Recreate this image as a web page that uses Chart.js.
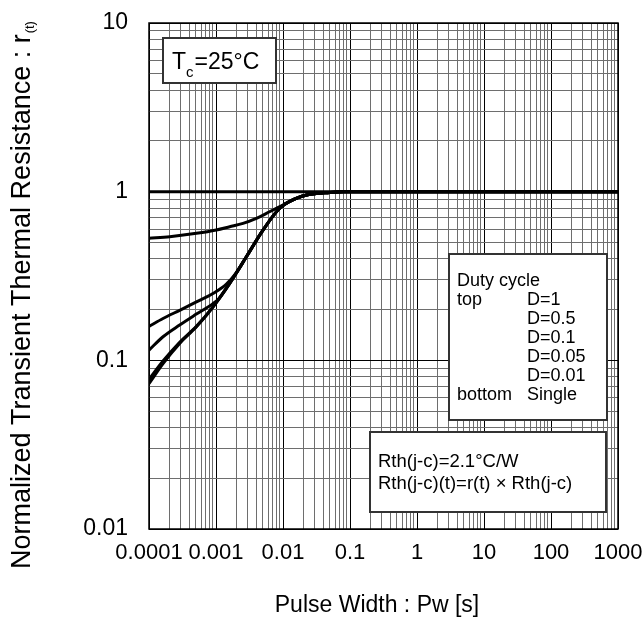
<!DOCTYPE html>
<html>
<head>
<meta charset="utf-8">
<script src="https://cdn.jsdelivr.net/npm/chart.js@4.4.0/dist/chart.umd.min.js"></script>
<style>
  html, body { margin: 0; padding: 0; background: #fff; }
</style>
</head>
<body>
<canvas id="myChart" width="643" height="626"></canvas>
<script>
// Pulse width [s] and normalized transient thermal resistance r(t) for each duty cycle
const pwD1 = [0.0001, 1000];
const rD1 = [1, 1];

const pwD05 = [0.0001, 0.000204, 0.00051, 0.00101, 0.0016, 0.00253, 0.004, 0.0063, 0.01, 0.0158, 0.0225, 0.05, 0.08, 1000];
const rD05 = [0.529, 0.541, 0.566, 0.593, 0.62, 0.649, 0.695, 0.76, 0.834, 0.914, 0.956, 0.99, 1, 1];

const pwD01 = [0.0001, 0.000162, 0.000287, 0.00051, 0.0009, 0.00143, 0.002, 0.00284, 0.00503, 0.00893, 0.0159, 0.0225, 0.05, 0.08, 1000];
const rD01 = [0.159, 0.177, 0.198, 0.222, 0.249, 0.283, 0.33, 0.411, 0.592, 0.797, 0.914, 0.956, 0.99, 1, 1];

const pwD005 = [0.0001, 0.000162, 0.000287, 0.00051, 0.0009, 0.0011, 0.0016, 0.00284, 0.00503, 0.00893, 0.0159, 0.0225, 0.05, 0.08, 1000];
const rD005 = [0.115, 0.138, 0.162, 0.188, 0.217, 0.232, 0.286, 0.411, 0.592, 0.797, 0.914, 0.956, 0.99, 1, 1];

const pwD001 = [0.0001, 0.000162, 0.000287, 0.00051, 0.0009, 0.0016, 0.00284, 0.00503, 0.00893, 0.0159, 0.0225, 0.05, 0.08, 1000];
const rD001 = [0.077, 0.099, 0.128, 0.159, 0.207, 0.286, 0.411, 0.592, 0.797, 0.914, 0.956, 0.99, 1, 1];

const pwSingle = [0.0001, 0.000162, 0.000287, 0.00051, 0.0009, 0.0016, 0.00284, 0.00503, 0.00893, 0.0159, 0.0225, 0.05, 0.08, 1000];
const rSingle = [0.0728, 0.0957, 0.126, 0.158, 0.207, 0.286, 0.411, 0.592, 0.797, 0.914, 0.956, 0.99, 1, 1];

// Axis decades and their labels
const xDecades = [0.0001, 0.001, 0.01, 0.1, 1, 10, 100, 1000];
const xTickLabels = ['0.0001', '0.001', '0.01', '0.1', '1', '10', '100', '1000'];
const yDecades = [0.01, 0.1, 1, 10];
const yTickLabels = ['0.01', '0.1', '1', '10'];

const legendLeft = ['Duty cycle', 'top', '', '', '', '', 'bottom'];
const legendRight = ['', 'D=1', 'D=0.5', 'D=0.1', 'D=0.05', 'D=0.01', 'Single'];
const noteLines = ['Rth(j-c)=2.1\u00B0C/W', 'Rth(j-c)(t)=r(t) \u00D7 Rth(j-c)'];

const FONT = "'Liberation Sans', Arial, sans-serif";

function toPoints(xs, ys) {
  return xs.map((x, i) => ({ x: x, y: ys[i] }));
}

// 1..9 x 10^n grid ticks, decades flagged as major
function logGridTicks(decades) {
  const ticks = [];
  decades.forEach((d, i) => {
    ticks.push({ value: d, major: true });
    if (i === decades.length - 1) return;
    for (let m = 2; m <= 9; m++) {
      ticks.push({ value: d * m, major: false });
    }
  });
  return ticks;
}

function curve(label, xs, ys) {
  return {
    label: label,
    data: toPoints(xs, ys),
    borderColor: '#000',
    borderWidth: 3,
    pointRadius: 0,
    fill: false,
    cubicInterpolationMode: 'monotone'
  };
}

const gridColor = (ctx) => (ctx.tick && ctx.tick.major ? '#000' : '#6e6e6e');

// Text boxes, frame and axis titles
const overlay = {
  id: 'overlay',
  afterDatasetsDraw(chart) {
    const ctx = chart.ctx;
    const ca = chart.chartArea;
    ctx.save();

    // plot frame
    ctx.strokeStyle = '#000';
    ctx.lineWidth = 1.5;
    ctx.strokeRect(ca.left, ca.top, ca.right - ca.left, ca.bottom - ca.top);

    function box(x, y, w, h) {
      ctx.fillStyle = '#fff';
      ctx.fillRect(x, y, w, h);
      ctx.strokeStyle = '#333';
      ctx.lineWidth = 2;
      ctx.strokeRect(x, y, w, h);
    }

    ctx.textAlign = 'left';
    ctx.textBaseline = 'alphabetic';

    // case temperature box
    box(ca.left + 14, ca.top + 15, 113, 45);
    ctx.fillStyle = '#000';
    let tx = ca.left + 23;
    const ty = ca.top + 45.5;
    ctx.font = '23px ' + FONT;
    ctx.fillText('T', tx, ty);
    tx += ctx.measureText('T').width;
    ctx.font = '15px ' + FONT;
    ctx.fillText('c', tx, ty + 8);
    tx += ctx.measureText('c').width + 1;
    ctx.font = '23px ' + FONT;
    ctx.fillText('=25\u00B0C', tx, ty);

    // duty cycle legend box
    box(ca.left + 300, ca.top + 231, 158, 166);
    ctx.fillStyle = '#000';
    ctx.font = '18px ' + FONT;
    legendLeft.forEach((t, i) => {
      ctx.fillText(t, ca.left + 308, ca.top + 262.5 + i * 19);
    });
    legendRight.forEach((t, i) => {
      ctx.fillText(t, ca.left + 378, ca.top + 262.5 + i * 19);
    });

    // thermal resistance note box
    box(ca.left + 221, ca.top + 409, 236, 80);
    ctx.fillStyle = '#000';
    ctx.font = '18.5px ' + FONT;
    noteLines.forEach((t, i) => {
      ctx.fillText(t, ca.left + 229, ca.top + 443.5 + i * 22.5);
    });

    ctx.restore();
  },
  afterDraw(chart) {
    const ctx = chart.ctx;
    ctx.save();
    ctx.fillStyle = '#000';

    // x title
    ctx.textAlign = 'center';
    ctx.textBaseline = 'middle';
    ctx.font = '23px ' + FONT;
    ctx.fillText('Pulse Width : Pw [s]', 377, 606);

    // y title with subscript
    ctx.textAlign = 'left';
    ctx.textBaseline = 'alphabetic';
    ctx.translate(30, 569);
    ctx.rotate(-Math.PI / 2);
    ctx.font = '27px ' + FONT;
    const main = 'Normalized Transient Thermal Resistance : r';
    ctx.fillText(main, 0, 0);
    const w = ctx.measureText(main).width;
    ctx.font = '13px ' + FONT;
    ctx.fillText('(t)', w + 1, 4);
    ctx.restore();
  }
};

const chartCtx = document.getElementById('myChart').getContext('2d');
new Chart(chartCtx, {
  type: 'line',
  data: {
    datasets: [
      curve('D=1', pwD1, rD1),
      curve('D=0.5', pwD05, rD05),
      curve('D=0.1', pwD01, rD01),
      curve('D=0.05', pwD005, rD005),
      curve('D=0.01', pwD001, rD001),
      curve('Single', pwSingle, rSingle)
    ]
  },
  options: {
    responsive: false,
    animation: false,
    layout: { padding: { top: 23, right: 25, left: 0, bottom: 0 } },
    plugins: {
      legend: { display: false },
      tooltip: { enabled: false }
    },
    scales: {
      x: {
        type: 'logarithmic',
        min: 0.0001,
        max: 1000,
        afterBuildTicks: (scale) => { scale.ticks = logGridTicks(xDecades); },
        afterFit: (scale) => {
          scale.height = 97;
          scale.paddingLeft = 0;
          scale.paddingRight = 0;
        },
        grid: { color: gridColor, lineWidth: 1, drawTicks: false },
        border: { display: false },
        ticks: {
          autoSkip: false,
          maxRotation: 0,
          padding: 11,
          color: '#000',
          font: { family: FONT, size: 22 },
          callback: (value) => {
            const i = xDecades.indexOf(value);
            return i >= 0 ? xTickLabels[i] : '';
          }
        }
      },
      y: {
        type: 'logarithmic',
        min: 0.01,
        max: 10,
        afterBuildTicks: (scale) => { scale.ticks = logGridTicks(yDecades); },
        afterFit: (scale) => {
          scale.width = 149;
          scale.paddingTop = 0;
          scale.paddingBottom = 0;
        },
        grid: { color: gridColor, lineWidth: 1, drawTicks: false },
        border: { display: false },
        ticks: {
          autoSkip: false,
          padding: 21,
          color: '#000',
          font: { family: FONT, size: 23 },
          callback: (value) => {
            const i = yDecades.indexOf(value);
            return i >= 0 ? yTickLabels[i] : '';
          }
        }
      }
    }
  },
  plugins: [overlay]
});
</script>
</body>
</html>
